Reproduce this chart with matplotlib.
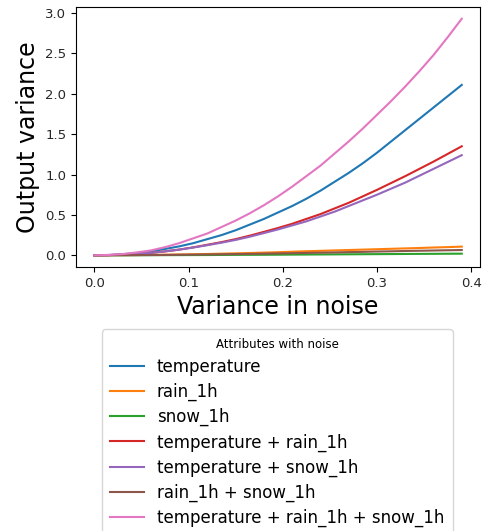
import numpy as np
import matplotlib
matplotlib.use("Agg")
import matplotlib.pyplot as plt

# varianza del ruido (eje x)
noise_var = [0.0, 0.015, 0.03, 0.045, 0.06, 0.075, 0.09, 0.105, 0.12, 0.135, 0.15, 0.165, 0.18, 0.195,
             0.21, 0.225, 0.24, 0.255, 0.27, 0.285, 0.30, 0.315, 0.33, 0.345, 0.36, 0.375, 0.39]

# varianza de salida por combinación de atributos
temperature    = [0, 0.003, 0.012, 0.028, 0.05, 0.078, 0.11, 0.15, 0.20, 0.25, 0.31, 0.38, 0.45, 0.53,
                  0.61, 0.70, 0.80, 0.91, 1.02, 1.14, 1.27, 1.41, 1.55, 1.69, 1.83, 1.97, 2.11]
rain           = [0, 0.001, 0.002, 0.003, 0.005, 0.007, 0.010, 0.013, 0.016, 0.020, 0.024, 0.028, 0.033, 0.038,
                  0.044, 0.050, 0.055, 0.060, 0.065, 0.070, 0.075, 0.080, 0.085, 0.090, 0.096, 0.101, 0.107]
snow           = [0, 0, 0, 0.0005, 0.001, 0.0015, 0.002, 0.0025, 0.003, 0.004, 0.005, 0.0055, 0.006, 0.007,
                  0.008, 0.009, 0.010, 0.011, 0.012, 0.013, 0.014, 0.015, 0.016, 0.017, 0.018, 0.019, 0.020]
temp_rain      = [0, 0.002, 0.008, 0.017, 0.03, 0.048, 0.07, 0.098, 0.13, 0.163, 0.20, 0.243, 0.29, 0.338,
                  0.39, 0.45, 0.51, 0.58, 0.65, 0.73, 0.81, 0.895, 0.98, 1.07, 1.16, 1.255, 1.35]
temp_snow      = [0, 0.002, 0.008, 0.017, 0.03, 0.048, 0.07, 0.096, 0.125, 0.156, 0.19, 0.23, 0.275, 0.32,
                  0.37, 0.42, 0.48, 0.54, 0.61, 0.68, 0.75, 0.825, 0.90, 0.985, 1.07, 1.155, 1.24]
rain_snow      = [0, 0.0005, 0.001, 0.002, 0.003, 0.004, 0.006, 0.008, 0.010, 0.012, 0.015, 0.017, 0.020, 0.023,
                  0.026, 0.029, 0.032, 0.035, 0.039, 0.042, 0.046, 0.049, 0.053, 0.056, 0.059, 0.062, 0.065]
temp_rain_snow = [0, 0.004, 0.015, 0.035, 0.06, 0.10, 0.15, 0.21, 0.27, 0.35, 0.43, 0.52, 0.62, 0.73,
                  0.85, 0.98, 1.11, 1.26, 1.41, 1.57, 1.74, 1.91, 2.09, 2.28, 2.48, 2.70, 2.93]

series = [
    ("temperature", temperature),
    ("rain_1h", rain),
    ("snow_1h", snow),
    ("temperature + rain_1h", temp_rain),
    ("temperature + snow_1h", temp_snow),
    ("rain_1h + snow_1h", rain_snow),
    ("temperature + rain_1h + snow_1h", temp_rain_snow),
]

fig = plt.figure(figsize=(4.84, 5.31), dpi=100)
ax = fig.add_axes([0.157, 0.497, 0.835, 0.49])

for label, vals in series:
    ax.plot(noise_var, vals, linewidth=1.5, label=label)

ax.set_xlabel("Variance in noise", fontsize=17)
ax.set_ylabel("Output variance", fontsize=17)
ax.tick_params(labelsize=9.5, labelcolor="#262626")
ax.set_xticks([0.0, 0.1, 0.2, 0.3, 0.4])

handles, labels = ax.get_legend_handles_labels()
fig.legend(handles, labels, title="Attributes with noise", loc="upper center",
           bbox_to_anchor=(0.573, 0.389), fontsize=12, title_fontsize=8.5,
           labelspacing=0.42, borderaxespad=0.3, borderpad=0.5)

fig.savefig("out.png", dpi=100)
